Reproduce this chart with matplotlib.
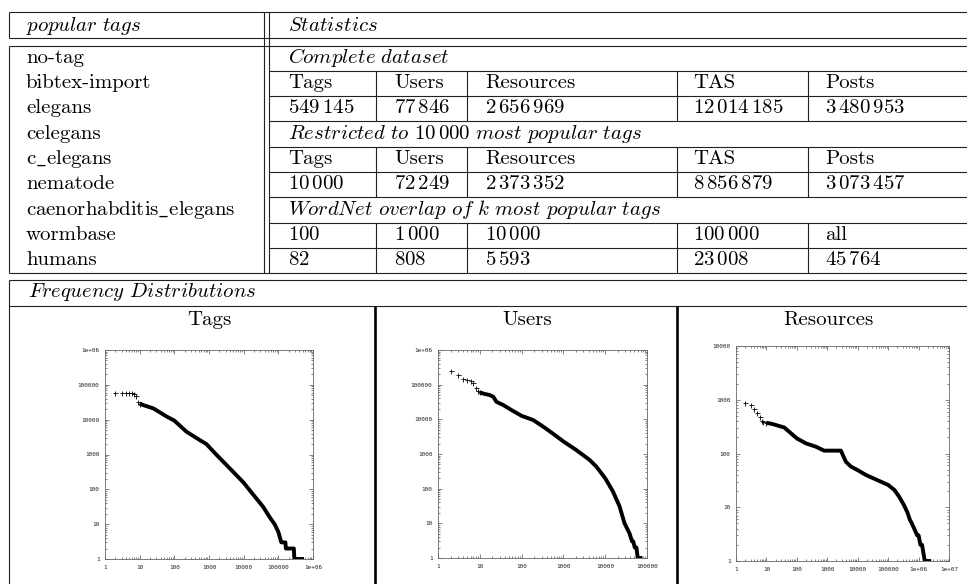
import matplotlib
matplotlib.use('Agg')
import matplotlib.pyplot as plt
from matplotlib.ticker import LogLocator, FuncFormatter, NullFormatter

plt.rcParams['mathtext.fontset'] = 'cm'
plt.rcParams['axes.formatter.use_mathtext'] = True

# Table content
popular_tags = ['no-tag', 'bibtex-import', 'elegans', 'celegans', 'c_elegans',
                'nematode', 'caenorhabditis_elegans', 'wormbase', 'humans']
stat_columns = ['Tags', 'Users', 'Resources', 'TAS', 'Posts']
complete_counts = [549145, 77846, 2656969, 12014185, 3480953]
restricted_counts = [10000, 72249, 2373352, 8856879, 3073457]
wordnet_k = [100, 1000, 10000, 100000, 'all']
wordnet_overlap = [82, 808, 5593, 23008, 45764]

# Frequency distributions (rank, frequency)
tags_rank = [2, 3, 4, 5, 6, 7, 8, 9, 10, 13, 25, 60, 100, 225, 540, 840, 1650,
             4950, 10000, 18300, 36000, 56000, 78000, 100000, 122000, 160000,
             165000, 280000, 290000, 549000]
tags_freq = [59000, 59000, 59000, 59000, 59000, 56000, 47000, 33000, 29000,
             26000, 21000, 12300, 9400, 4500, 2600, 2000, 975, 320, 155, 73,
             32, 16, 10, 6, 3, 3, 2, 2, 1, 1]

users_rank = [2, 3, 4, 5, 6, 7, 8, 9, 10, 13, 17, 21, 25, 36, 57, 100, 188,
              325, 620, 1000, 2000, 4200, 6100, 10000, 15300, 22000, 29000,
              38000, 44000, 47000, 51000, 56000, 60000, 77800]
users_freq = [253000, 185000, 149000, 135000, 127000, 114000, 78500, 66000,
              60000, 54000, 50500, 45000, 32000, 26000, 18600, 12600, 9600,
              6200, 3550, 2300, 1320, 680, 436, 200, 83, 31, 10, 5.2, 3, 3,
              2, 2, 1, 1]

res_rank = [2, 3, 4, 5, 6, 7, 8, 10, 16, 26, 38, 56, 100, 200, 420, 790, 2800,
            4100, 6000, 10000, 18400, 39000, 100000, 160000, 230000, 330000,
            430000, 510000, 600000, 720000, 900000, 1000000, 1150000,
            1300000, 1600000, 2600000]
res_freq = [880, 800, 660, 575, 484, 405, 390, 374, 353, 325, 306, 254, 191,
            154, 134, 113, 113, 70, 57, 49, 40, 33, 26, 21, 15.7, 11, 8, 6, 5,
            4, 3, 3, 2, 2, 1, 1]

# Layout in pixel coordinates of the 967x584 image
W, H = 967, 584
FS = 15
LINE = '#222222'
X_LEFT, X_DBL1, X_DBL2 = 8.5, 264, 269
COL_LINES = [376, 467, 677, 808]
COL_TEXT = [288, 394, 485, 693, 825]
ROW_TOP, ROW_H = 45.5, 25.33


def fmt_num(v):
    if isinstance(v, str):
        return v
    return '$' + f'{v:,}'.replace(',', r'\,') + '$'


def fmt_tag(t):
    # cmr10 has no visible underscore, borrow the typewriter one
    return t.replace('_', r'$\mathtt{\_}$')


fig = plt.figure(figsize=(W / 100, H / 100), dpi=100)
base = fig.add_axes([0, 0, 1, 1])
base.set_xlim(0, W)
base.set_ylim(H, 0)
base.axis('off')


def hline(y, x0=X_LEFT, x1=W, lw=0.8, color=LINE):
    base.plot([x0, x1], [y, y], color=color, lw=lw, solid_capstyle='butt')


def vline(x, y0, y1, lw=0.8, color=LINE):
    base.plot([x, x], [y0, y1], color=color, lw=lw, solid_capstyle='butt')


def put(x, y, s, italic=False, **kw):
    if italic:
        base.text(x, y, s, fontsize=FS, va='baseline', **kw)
    else:
        base.text(x, y, s, fontsize=FS, va='baseline', family='cmr10', **kw)


# Header table
hline(12)
hline(38.3)
vline(X_LEFT, 12, 38.3)
put(26, 31, r'$\mathit{popular\ tags}$', italic=True)
put(COL_TEXT[0], 31, r'$\mathit{Statistics}$', italic=True)

# Body table
rows = [ROW_TOP + i * ROW_H for i in range(10)]
hline(rows[0])
hline(rows[-1])
vline(X_LEFT, rows[0], rows[-1])
vline(X_DBL1, 12, rows[-1])
vline(X_DBL2, 12, rows[-1])
for y in rows[1:-1]:
    hline(y, X_DBL2, W)

for i, tag in enumerate(popular_tags):
    put(26, rows[i + 1] - 8, fmt_tag(tag))

subtitles = [r'$\mathit{Complete\ dataset}$',
             r'$\mathit{Restricted\ to}\ 10\,000\ \mathit{most\ popular\ tags}$',
             r'$\mathit{WordNet\ overlap\ of\ k\ most\ popular\ tags}$']
blocks = [(stat_columns, complete_counts),
          (stat_columns, restricted_counts),
          (wordnet_k, wordnet_overlap)]
for b, (sub, (heads, vals)) in enumerate(zip(subtitles, blocks)):
    r = 3 * b
    put(COL_TEXT[0], rows[r + 1] - 8, sub, italic=True)
    for x in COL_LINES:
        vline(x, rows[r + 1], rows[r + 3])
    for j in range(5):
        put(COL_TEXT[j], rows[r + 2] - 8, fmt_num(heads[j]))
        put(COL_TEXT[j], rows[r + 3] - 8, fmt_num(vals[j]))

# Frequency distributions table
hline(279.5)
hline(305.5)
vline(X_LEFT, 279.5, H)
put(28, 297, r'$\mathit{Frequency\ Distributions}$', italic=True)
vline(375, 305.5, H, lw=1.9, color='black')
vline(677, 305.5, H, lw=1.9, color='black')

panels = [
    ('Tags', 209, (105, 350, 313, 559), tags_rank, tags_freq, 1e6, 1e6, 9),
    ('Users', 527, (438, 350, 647, 558), users_rank, users_freq, 1e5, 1e6, 9),
    ('Resources', 828, (736, 346, 949, 561), res_rank, res_freq, 1e7, 1e4, 8),
]

for title, tx, (x0, y0, x1, y1), rank, freq, xmax, ymax, n_sparse in panels:
    put(tx, 325, title, ha='center')
    ax = fig.add_axes([x0 / W, 1 - y1 / H, (x1 - x0) / W, (y1 - y0) / H])
    ax.plot(rank[:n_sparse], freq[:n_sparse], '+', color='black', ms=3.6, mew=0.6)
    ax.plot(rank[n_sparse - 1:], freq[n_sparse - 1:], '-', color='black', lw=2.8,
            solid_capstyle='butt')
    ax.set_xscale('log')
    ax.set_yscale('log')
    ax.set_xlim(1, xmax)
    ax.set_ylim(1, ymax)

    def gnu_fmt(v, pos, top=max(xmax, ymax)):
        if v < 1 or v > top:
            return ''
        if v >= 1e6:
            return f'{v:.0e}'
        return f'{v:.0f}'

    for a in (ax.xaxis, ax.yaxis):
        a.set_major_locator(LogLocator(base=10, numticks=12))
        a.set_minor_locator(LogLocator(base=10, subs=range(2, 10), numticks=12))
        a.set_major_formatter(FuncFormatter(gnu_fmt))
        a.set_minor_formatter(NullFormatter())
    ax.tick_params(which='both', direction='in', top=True, right=True,
                   color='#555555', width=0.5)
    ax.tick_params(which='major', length=3, pad=4, labelsize=4.3,
                   labelcolor='#222222')
    ax.tick_params(which='minor', length=1.5)
    for lab in ax.get_xticklabels() + ax.get_yticklabels():
        lab.set_family('DejaVu Sans Mono')
    for s in ax.spines.values():
        s.set_color('#666666')
        s.set_linewidth(0.6)

fig.savefig('out.png', dpi=100)
